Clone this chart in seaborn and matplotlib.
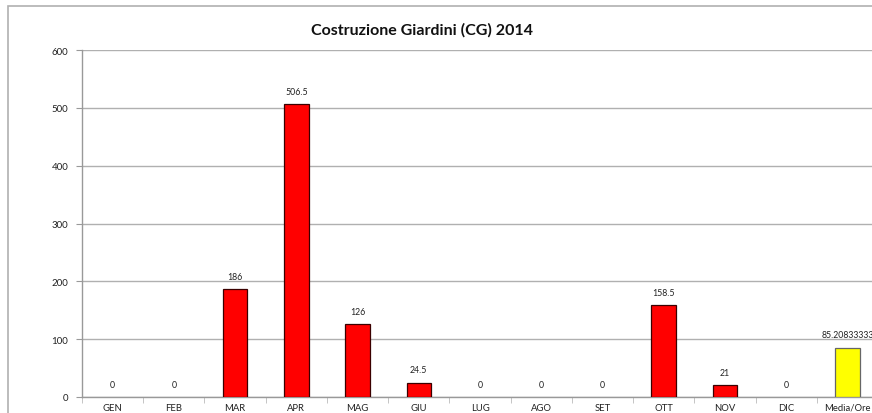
import matplotlib
matplotlib.use('Agg')
import matplotlib.pyplot as plt
import seaborn as sns
import numpy as np
from matplotlib.patches import Rectangle

# dati
mesi = ['GEN', 'FEB', 'MAR', 'APR', 'MAG', 'GIU', 'LUG', 'AGO', 'SET', 'OTT', 'NOV', 'DIC', 'Media/Ore']
ore = [0, 0, 186, 506.5, 126, 24.5, 0, 0, 0, 158.5, 21, 0, 85.20833333]
colori = ['#ff0000'] * 12 + ['#ffff00']

sns.set_style('white')
plt.rcParams['font.family'] = ['Lato', 'DejaVu Sans']

fig = plt.figure(figsize=(8.72, 4.14), dpi=100)
ax = fig.add_axes([82 / 872, 1 - 398 / 414, 796 / 872, (398 - 51) / 414])

# cornice esterna del grafico
fig.patches.append(Rectangle((8 / 872, -0.1), 1.0, 1 - 7 / 414 + 0.1,
                             transform=fig.transFigure, fill=False,
                             edgecolor='#b0b0b0', linewidth=1.2, zorder=0))

sns.barplot(x=mesi, y=ore, hue=mesi, palette=colori, legend=False, saturation=1,
            width=0.4, edgecolor='#3a0000', linewidth=0.9, ax=ax, zorder=3)

# barre a zero senza bordo, giallo con bordo grigio
for i, p in enumerate(ax.patches):
    if ore[i] == 0:
        p.set_linewidth(0)
ax.patches[-1].set_edgecolor('#666666')

for i, v in enumerate(ore):
    ax.annotate(format(v, '.10g'), (i, v), xytext=(0, 6), textcoords='offset points',
                ha='center', va='bottom', fontsize=6.3, color='#222222')

ax.set_ylim(0, 600)
ax.set_yticks(np.arange(0, 601, 100))
ax.set_xlim(-0.5, len(mesi) - 0.5)
ax.yaxis.grid(True, color='#b0b0b0', linewidth=1.0)
ax.set_axisbelow(True)

for s in ['top', 'right']:
    ax.spines[s].set_visible(False)
for s in ['left', 'bottom']:
    ax.spines[s].set_color('#999999')
    ax.spines[s].set_linewidth(1.0)

ax.tick_params(axis='y', which='both', left=True, length=4, color='#999999',
               labelsize=7, labelcolor='#222222', pad=6)
ax.set_xticks(range(len(mesi)))
ax.set_xticklabels(mesi, fontsize=6.8, color='#222222')
ax.tick_params(axis='x', which='major', length=0, pad=4)
ax.set_xticks(np.arange(-0.5, len(mesi)), minor=True)
ax.tick_params(axis='x', which='minor', length=4, color='#bbbbbb', bottom=True)
ax.set_xlabel('')
ax.set_ylabel('')

fig.text(422 / 872, 1 - 30 / 414, 'Costruzione Giardini (CG) 2014', ha='center', va='center',
         fontsize=11.5, fontweight='bold', color='#111111')

fig.savefig('out.png', dpi=100)
